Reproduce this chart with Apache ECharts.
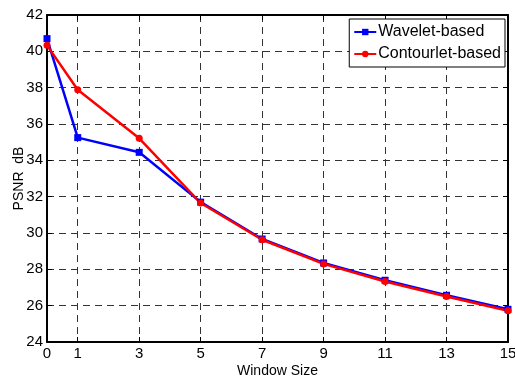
<!DOCTYPE html>
<html>
<head>
<meta charset="utf-8">
<script src="https://cdn.jsdelivr.net/npm/echarts@6/dist/echarts.min.js"></script>
<style>
  html, body { margin: 0; padding: 0; background: #fff; }
  #chart { width: 515px; height: 376px; }
</style>
</head>
<body>
<div id="chart"></div>
<script>
var windowSizes = [0, 1, 3, 5, 7, 9, 11, 13, 15]
var waveletPsnr = [40.7, 35.25, 34.44, 31.7, 29.67, 28.35, 27.4, 26.57, 25.8]
var contourletPsnr = [40.33, 37.89, 35.21, 31.65, 29.63, 28.3, 27.33, 26.5, 25.72]

var font = 'Liberation Sans, Arial, sans-serif'

function pairs (xs, ys) {
  return xs.map(function (x, i) { return [x, ys[i]] })
}

var gridDash = { color: '#333', type: [7, 5], width: 1 }

var option = {
  animation: false,
  backgroundColor: '#fff',
  grid: { left: 47, right: 7, top: 15, bottom: 34, containLabel: false, outerBoundsMode: 'none' },
  legend: {
    right: 10,
    top: 19,
    orient: 'vertical',
    backgroundColor: '#fff',
    borderColor: '#000',
    borderWidth: 1,
    borderRadius: 0,
    padding: [5, 4, 5, 4],
    itemGap: 6,
    itemWidth: 22,
    itemHeight: 8,
    textStyle: { fontFamily: font, fontSize: 16, color: '#000', padding: [0, 0, 0, -3] },
    data: ['Wavelet-based', 'Contourlet-based']
  },
  xAxis: [
    {
      type: 'value',
      min: 0,
      max: 15,
      name: 'Window Size',
      nameLocation: 'middle',
      nameGap: 22,
      nameMoveOverlap: false,
      nameTextStyle: { fontFamily: font, fontSize: 14, color: '#000' },
      axisLine: { show: true, onZero: false, lineStyle: { color: '#000', width: 2 } },
      axisTick: { show: true, inside: true, length: 5, customValues: windowSizes, lineStyle: { color: '#000' } },
      axisLabel: { customValues: windowSizes, fontFamily: font, fontSize: 15, color: '#000', margin: 4 },
      splitLine: { show: true, lineStyle: gridDash }
    },
    {
      type: 'value',
      min: 0,
      max: 15,
      position: 'top',
      axisLine: { show: true, onZero: false, lineStyle: { color: '#000', width: 2 } },
      axisTick: { show: true, inside: true, length: 5, customValues: windowSizes, lineStyle: { color: '#000' } },
      axisLabel: { show: false },
      splitLine: { show: false }
    }
  ],
  yAxis: [
    {
      type: 'value',
      min: 24,
      max: 42,
      interval: 2,
      name: 'PSNR  dB',
      nameLocation: 'middle',
      nameGap: 21,
      nameMoveOverlap: false,
      nameTextStyle: { fontFamily: font, fontSize: 14, color: '#000' },
      axisLine: { show: true, onZero: false, lineStyle: { color: '#000', width: 2 } },
      axisTick: { show: true, inside: true, length: 5, lineStyle: { color: '#000' } },
      axisLabel: { fontFamily: font, fontSize: 15, color: '#000', margin: 4 },
      splitLine: { show: true, lineStyle: gridDash }
    },
    {
      type: 'value',
      min: 24,
      max: 42,
      interval: 2,
      position: 'right',
      axisLine: { show: true, onZero: false, lineStyle: { color: '#000', width: 2 } },
      axisTick: { show: true, inside: true, length: 5, lineStyle: { color: '#000' } },
      axisLabel: { show: false },
      splitLine: { show: false }
    }
  ],
  series: [
    {
      name: 'Wavelet-based',
      type: 'line',
      data: pairs(windowSizes, waveletPsnr),
      symbol: 'rect',
      symbolSize: 7,
      lineStyle: { color: '#0000ff', width: 2.5 },
      itemStyle: { color: '#0000ff' }
    },
    {
      name: 'Contourlet-based',
      type: 'line',
      data: pairs(windowSizes, contourletPsnr),
      symbol: 'circle',
      symbolSize: 7,
      lineStyle: { color: '#ff0000', width: 2.5 },
      itemStyle: { color: '#ff0000' }
    }
  ]
}

var myChart = echarts.init(document.getElementById('chart'))
myChart.setOption(option)
</script>
</body>
</html>
